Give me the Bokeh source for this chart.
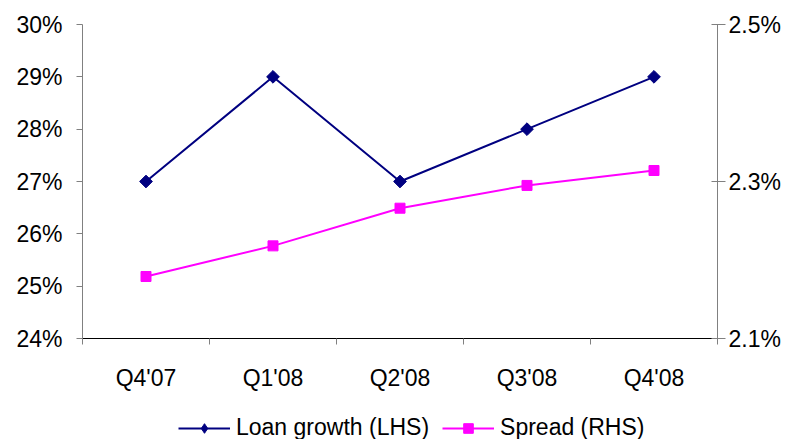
from bokeh.plotting import figure
from bokeh.layouts import column
from bokeh.models import (Range1d, LinearAxis, FixedTicker, PrintfTickFormatter,
                          Legend, LegendItem)
from bokeh.embed import file_html
from bokeh.resources import INLINE
import math

categories = ["Q4'07", "Q1'08", "Q2'08", "Q3'08", "Q4'08"]
loan_growth = [27.0, 29.0, 27.0, 28.0, 29.0]   # % (LHS)
spread = [2.179, 2.218, 2.266, 2.295, 2.314]   # % (RHS)
lhs_ticks = [24, 25, 26, 27, 28, 29, 30]
rhs_ticks = [2.1, 2.3, 2.5]
series_names = ["Loan growth (LHS)", "Spread (RHS)"]

FONT = "Liberation Sans"
FS = "23px"
NAVY = "#000080"
MAGENTA = "#FF00FF"

xs = [i + 0.5 for i in range(len(categories))]

p = figure(width=796, height=399, output_backend="svg", toolbar_location=None,
           x_range=Range1d(0, len(categories)), y_range=Range1d(24, 30),
           min_border_left=82, min_border_right=79, min_border_top=24,
           min_border_bottom=61, x_axis_type=None, y_axis_type=None)
p.outline_line_color = None
p.xgrid.visible = False
p.ygrid.visible = False
p.background_fill_color = "white"
p.border_fill_color = "white"
p.extra_y_ranges = {"rhs": Range1d(2.1, 2.5)}

# bottom axis: labels at category centres, tick marks between categories
xaxis = LinearAxis(ticker=FixedTicker(ticks=xs, minor_ticks=list(range(len(categories) + 1))),
                   major_label_overrides={x: c for x, c in zip(xs, categories)})
xaxis.axis_line_color = "black"
xaxis.major_tick_out = 6
xaxis.major_tick_in = 0
xaxis.major_tick_line_alpha = 0
xaxis.minor_tick_out = 6
xaxis.minor_tick_in = 0
xaxis.minor_tick_line_color = "#808080"
xaxis.major_label_standoff = 20
xaxis.major_label_text_font = FONT
xaxis.major_label_text_font_size = FS
xaxis.major_label_text_color = "black"
p.add_layout(xaxis, "below")

# left axis
laxis = LinearAxis(ticker=FixedTicker(ticks=lhs_ticks, minor_ticks=[]),
                   formatter=PrintfTickFormatter(format="%d%%"))
laxis.axis_line_color = "#808080"
laxis.major_tick_out = 6
laxis.major_tick_in = 0
laxis.major_tick_line_color = "#808080"
laxis.major_label_standoff = 14
laxis.major_label_text_font = FONT
laxis.major_label_text_font_size = FS
laxis.major_label_text_color = "black"
p.add_layout(laxis, "left")

# right axis
raxis = LinearAxis(y_range_name="rhs", ticker=FixedTicker(ticks=rhs_ticks, minor_ticks=[]),
                   formatter=PrintfTickFormatter(format="%.1f%%"))
raxis.axis_line_color = "#808080"
raxis.major_tick_out = 8
raxis.major_tick_in = 6
raxis.major_tick_line_color = "#808080"
raxis.major_label_standoff = 3
raxis.major_label_text_font = FONT
raxis.major_label_text_font_size = FS
raxis.major_label_text_color = "black"
p.add_layout(raxis, "right")

p.line(xs, loan_growth, line_color=NAVY, line_width=2)
p.scatter(xs, loan_growth, marker="square", size=9, angle=math.pi / 4,
          fill_color=NAVY, line_color=NAVY)
p.line(xs, spread, line_color=MAGENTA, line_width=2, y_range_name="rhs")
p.scatter(xs, spread, marker="square", size=10, fill_color=MAGENTA,
          line_color=MAGENTA, y_range_name="rhs")

# legend strip below the chart (its frame is aligned with the chart's frame);
# the series drawn here fall outside its ranges, only the legend is visible
lf = figure(width=796, height=40, output_backend="svg", toolbar_location=None,
            x_range=Range1d(0, 1), y_range=Range1d(0, 1),
            min_border=0, x_axis_type=None, y_axis_type=None)
lf.outline_line_color = None
lf.xgrid.visible = False
lf.ygrid.visible = False
ll1 = lf.line(xs, loan_growth, line_color=NAVY, line_width=2)
lm1 = lf.scatter(xs, loan_growth, marker="diamond", size=12,
                 fill_color=NAVY, line_color=NAVY)
ll2 = lf.line(xs, spread, line_color=MAGENTA, line_width=2)
lm2 = lf.scatter(xs, spread, marker="square", size=10, fill_color=MAGENTA, line_color=MAGENTA)

legend = Legend(items=[LegendItem(label=series_names[0], renderers=[ll1, lm1]),
                       LegendItem(label=series_names[1], renderers=[ll2, lm2])],
                orientation="horizontal", location=(96, -2))
legend.glyph_width = 52
legend.glyph_height = 24
legend.label_height = 22
legend.label_standoff = 6
legend.spacing = 13
legend.padding = 0
legend.margin = 0
legend.border_line_color = None
legend.background_fill_alpha = 0
legend.label_text_font = FONT
legend.label_text_font_size = FS
legend.label_text_color = "black"
lf.add_layout(legend, "center")

open("out.html", "w").write(file_html(column(p, lf, spacing=0), INLINE))
